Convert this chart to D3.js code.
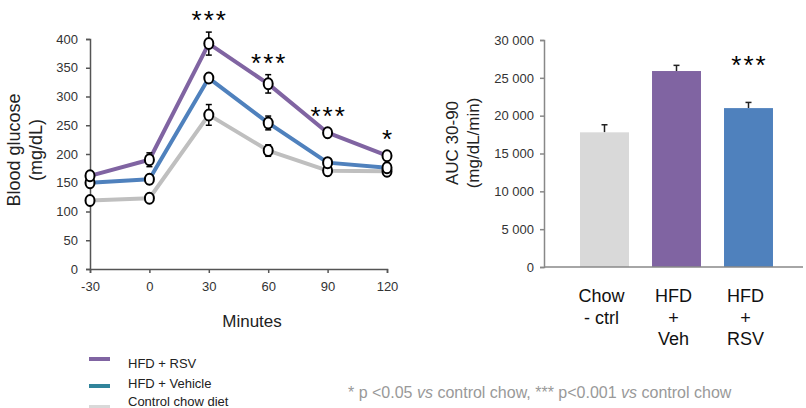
<!DOCTYPE html>
<html>
<head>
<meta charset="utf-8">
<script src="https://cdn.jsdelivr.net/npm/d3@7/dist/d3.min.js"></script>
<style>
  body { margin: 0; background: #fff; }
  svg { display: block; font-family: "Liberation Sans", Arial, sans-serif; }
</style>
</head>
<body>
<svg id="chart" width="806" height="408"></svg>
<script>
// ---- data ----
var minutes = [-30, 0, 30, 60, 90, 120];
var rsvMean = [162, 190, 392, 322, 237, 197];
var rsvErr = [5, 12, 20, 16, 5, 5];
var vehMean = [150, 156, 332, 254, 185, 176];
var vehErr = [4, 8, 6, 12, 6, 6];
var chowMean = [119, 123, 268, 206, 171, 170];
var chowErr = [4, 4, 18, 10, 7, 8];
var sigLabels = ["", "", "***", "***", "***", "*"];
var yTicksLeft = [0, 50, 100, 150, 200, 250, 300, 350, 400];

var aucGroups = ["chow", "veh", "rsv"];
var aucLabels = [["Chow", "- ctrl"], ["HFD", "+", "Veh"], ["HFD", "+", "RSV"]];
var aucMean = [17800, 25900, 21000];
var aucErr = [1000, 750, 750];
var aucSig = ["", "", "***"];
var yTicksRight = [0, 5000, 10000, 15000, 20000, 25000, 30000];

var legendNames = ["HFD + RSV", "HFD + Vehicle", "Control chow diet"];
var legendColors = ["#8064A2", "#31849B", "#D9D9D9"];

var purple = "#8064A2", blue = "#4F81BD", grey = "#BFBFBF";

var svg = d3.select("#chart");

// ---- left: glucose curve ----
var x = d3.scaleLinear().domain([-30, 120]).range([90, 387]);
var y = d3.scaleLinear().domain([0, 400]).range([269, 39]);

var gL = svg.append("g");

var yAx = gL.append("g").attr("transform", "translate(90,0)")
	.call(d3.axisLeft(y).tickValues(yTicksLeft).tickSize(4).tickPadding(8).tickFormat(String));
var xAx = gL.append("g").attr("transform", "translate(0,269)")
	.call(d3.axisBottom(x).tickValues(minutes).tickSize(4).tickPadding(9).tickFormat(String));
[yAx, xAx].forEach(function(a) {
	a.selectAll("path, line").attr("stroke", "#555").attr("stroke-width", 1.5);
	a.selectAll("text").attr("fill", "#333").style("font-size", "13px");
});

var series = [
	{ mean: chowMean, err: chowErr, color: grey },
	{ mean: vehMean, err: vehErr, color: blue },
	{ mean: rsvMean, err: rsvErr, color: purple }
];

var line = d3.line().x(function(d, i) { return x(minutes[i]); }).y(function(d) { return y(d); });

series.forEach(function(s) {
	gL.append("path").datum(s.mean)
		.attr("d", line)
		.attr("fill", "none")
		.attr("stroke", s.color)
		.attr("stroke-width", 4)
		.attr("stroke-linejoin", "round");
});

series.forEach(function(s) {
	var g = gL.append("g");
	s.mean.forEach(function(m, i) {
		var cx = x(minutes[i]);
		g.append("line").attr("x1", cx).attr("x2", cx)
			.attr("y1", y(m - s.err[i])).attr("y2", y(m + s.err[i]))
			.attr("stroke", "#000").attr("stroke-width", 1.5);
		[m - s.err[i], m + s.err[i]].forEach(function(v) {
			g.append("line").attr("x1", cx - 3).attr("x2", cx + 3)
				.attr("y1", y(v)).attr("y2", y(v))
				.attr("stroke", "#000").attr("stroke-width", 1.5);
		});
	});
	g.selectAll("ellipse").data(s.mean).enter().append("ellipse")
		.attr("cx", function(d, i) { return x(minutes[i]); })
		.attr("cy", function(d) { return y(d); })
		.attr("rx", 4.5).attr("ry", 5.5)
		.attr("fill", "#fff")
		.attr("stroke", "#000")
		.attr("stroke-width", 2);
});

gL.selectAll("text.sig").data(sigLabels).enter().append("text")
	.attr("class", "sig")
	.attr("x", function(d, i) { return x(minutes[i]) + 1; })
	.attr("y", function(d, i) { return Math.min(y(rsvMean[i] + rsvErr[i]), y(rsvMean[i]) - 5) - 3; })
	.attr("text-anchor", "middle")
	.style("font-size", "26px")
	.style("letter-spacing", "2px")
	.attr("fill", "#000")
	.text(function(d) { return d; });

gL.append("text").attr("x", 252).attr("y", 327).attr("text-anchor", "middle")
	.style("font-size", "17px").attr("fill", "#222").text("Minutes");

var yl = gL.append("text").attr("transform", "translate(20,150) rotate(-90)")
	.attr("text-anchor", "middle").style("font-size", "18px").attr("fill", "#222");
yl.append("tspan").attr("x", 0).attr("dy", 0).text("Blood glucose");
yl.append("tspan").attr("x", 0).attr("dy", 22).text("(mg/dL)");

// ---- right: AUC bars ----
var fmt = d3.formatLocale({ decimal: ".", thousands: " ", grouping: [3], currency: ["", ""] }).format(",d");
var xb = d3.scaleBand().domain(aucGroups).range([568.5, 784.5]).paddingInner(0.32).paddingOuter(0.16);
var yb = d3.scaleLinear().domain([0, 30000]).range([267, 40]);
var barColors = ["#D9D9D9", purple, blue];

var gR = svg.append("g");

var ybAx = gR.append("g").attr("transform", "translate(544,0)")
	.call(d3.axisLeft(yb).tickValues(yTicksRight).tickSize(4).tickPadding(6).tickFormat(fmt));
ybAx.selectAll("path, line").attr("stroke", "#888").attr("stroke-width", 1.5);
ybAx.selectAll("text").attr("fill", "#333").style("font-size", "13px");

gR.selectAll("line.err").data(aucMean).enter().append("line")
	.attr("x1", function(d, i) { return xb(aucGroups[i]) + xb.bandwidth() / 2; })
	.attr("x2", function(d, i) { return xb(aucGroups[i]) + xb.bandwidth() / 2; })
	.attr("y1", function(d) { return yb(d); })
	.attr("y2", function(d, i) { return yb(d + aucErr[i]); })
	.attr("stroke", "#222").attr("stroke-width", 1.5);
gR.selectAll("line.cap").data(aucMean).enter().append("line")
	.attr("x1", function(d, i) { return xb(aucGroups[i]) + xb.bandwidth() / 2 - 3; })
	.attr("x2", function(d, i) { return xb(aucGroups[i]) + xb.bandwidth() / 2 + 3; })
	.attr("y1", function(d, i) { return yb(d + aucErr[i]); })
	.attr("y2", function(d, i) { return yb(d + aucErr[i]); })
	.attr("stroke", "#222").attr("stroke-width", 1.5);

gR.selectAll("rect").data(aucMean).enter().append("rect")
	.attr("x", function(d, i) { return xb(aucGroups[i]); })
	.attr("y", function(d) { return yb(d); })
	.attr("width", xb.bandwidth())
	.attr("height", function(d) { return yb(0) - yb(d); })
	.attr("fill", function(d, i) { return barColors[i]; });

gR.append("line").attr("x1", 544).attr("x2", 803).attr("y1", yb(0)).attr("y2", yb(0))
	.attr("stroke", "#888").attr("stroke-width", 1.5);

gR.selectAll("text.sig").data(aucSig).enter().append("text")
	.attr("x", function(d, i) { return xb(aucGroups[i]) + xb.bandwidth() / 2 + 1; })
	.attr("y", 74)
	.attr("text-anchor", "middle")
	.style("font-size", "26px")
	.style("letter-spacing", "2px")
	.text(function(d) { return d; });

aucLabels.forEach(function(lines, i) {
	var t = gR.append("text").attr("text-anchor", "middle").style("font-size", "18px").attr("fill", "#111");
	lines.forEach(function(s, j) {
		t.append("tspan").attr("x", xb(aucGroups[i]) + xb.bandwidth() / 2 - 3).attr("y", 302 + j * 21.5).text(s);
	});
});

var yl2 = gR.append("text").attr("transform", "translate(458,143) rotate(-90)")
	.attr("text-anchor", "middle").style("font-size", "17px").attr("fill", "#222");
yl2.append("tspan").attr("x", 0).attr("dy", 0).text("AUC 30-90");
yl2.append("tspan").attr("x", 0).attr("dy", 21).text("(mg/dL/min)");

// ---- legend ----
var lg = svg.append("g");
var swatchY = [359, 386, 407];
var labelY = [368, 388, 406];
legendNames.forEach(function(n, i) {
	lg.append("line").attr("x1", 89).attr("x2", 110).attr("y1", swatchY[i]).attr("y2", swatchY[i])
		.attr("stroke", legendColors[i]).attr("stroke-width", 4);
	lg.append("text").attr("x", 128).attr("y", labelY[i]).style("font-size", "13px")
		.attr("fill", "#222").text(n);
});

// ---- footnote ----
var fn = svg.append("text").attr("x", 348).attr("y", 398).style("font-size", "16px").attr("fill", "#999");
fn.append("tspan").text("* p <0.05 ");
fn.append("tspan").style("font-style", "italic").text("vs");
fn.append("tspan").text(" control chow, *** p<0.001 ");
fn.append("tspan").style("font-style", "italic").text("vs");
fn.append("tspan").text(" control chow");
</script>
</body>
</html>
